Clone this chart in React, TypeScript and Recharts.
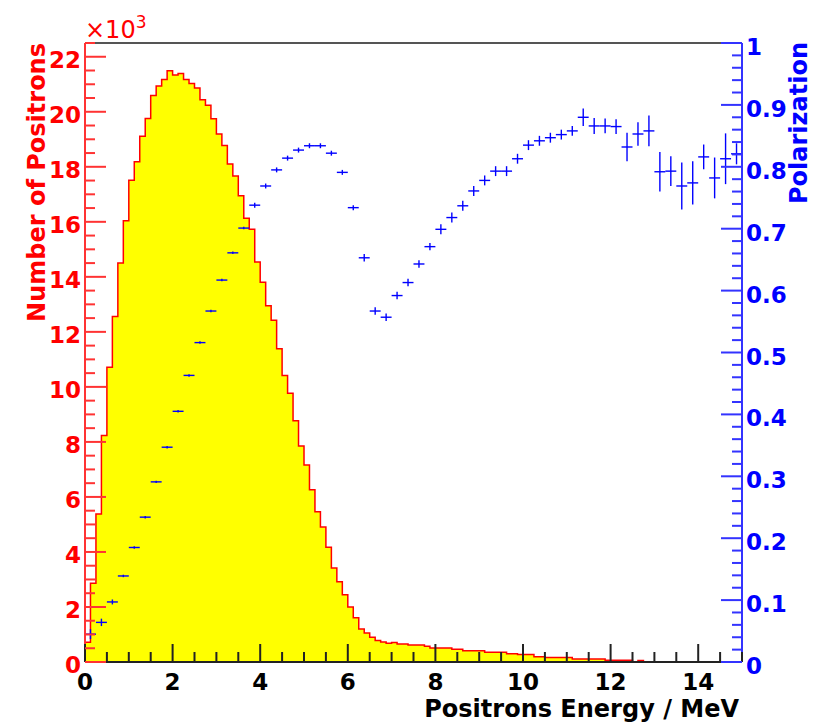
import React from 'react';
import { ComposedChart, Area, Scatter, XAxis, YAxis, ErrorBar, ReferenceLine, Label } from 'recharts';

// Histogram: positron counts per 0.125 MeV bin, starting at 0 MeV
const BIN_WIDTH = 0.125;
const positronCounts = [
  720, 2860, 5380, 8230, 10710, 12560, 14500, 16040, 17510, 18180,
  19110, 19760, 20590, 20940, 21170, 21490, 21340, 21390, 21170, 21030,
  20860, 20440, 20240, 19750, 19190, 18770, 18100, 17670, 16950, 16130,
  15730, 14540, 13800, 12950, 12420, 11390, 10410, 9770, 8770, 7850,
  7160, 6260, 5460, 4910, 4170, 3420, 2920, 2440, 2000, 1610,
  1200, 1050, 900, 780, 730, 680, 710, 650, 650, 620,
  620, 620, 570, 510, 510, 510, 510, 460, 460, 410,
  410, 410, 410, 350, 350, 350, 350, 300, 300, 270,
  270, 270, 190, 190, 160, 160, 160, 160, 160, 110,
  110, 110, 110, 110, 110, 60, 60, 60, 60, 60,
  0, 50,
];

// Polarization points: centres of 0.25 MeV bins starting at 0.125 MeV
const POL_BIN = 0.25;
const polarization = [
  0.045, 0.064, 0.097, 0.139, 0.185, 0.234, 0.291, 0.347, 0.405, 0.463,
  0.516, 0.567, 0.617, 0.661, 0.701, 0.738, 0.769, 0.795, 0.814, 0.827,
  0.834, 0.834, 0.822, 0.791, 0.734, 0.653, 0.567, 0.557, 0.592, 0.613,
  0.643, 0.671, 0.699, 0.718, 0.737, 0.761, 0.778, 0.793, 0.793, 0.813,
  0.835, 0.842, 0.847, 0.852, 0.858, 0.880, 0.866, 0.866, 0.865, 0.832,
  0.853, 0.858, 0.792, 0.793, 0.769, 0.774, 0.816, 0.782, 0.813, 0.821,
];
const polarizationErr = [
  0.008, 0.006, 0.004, 0.002, 0.002, 0.002, 0.002, 0.002, 0.002, 0.002,
  0.002, 0.002, 0.002, 0.002, 0.002, 0.004, 0.004, 0.004, 0.004, 0.004,
  0.004, 0.004, 0.004, 0.004, 0.004, 0.006, 0.006, 0.006, 0.006, 0.006,
  0.006, 0.006, 0.008, 0.008, 0.008, 0.008, 0.008, 0.008, 0.008, 0.008,
  0.008, 0.008, 0.008, 0.008, 0.008, 0.014, 0.013, 0.012, 0.012, 0.023,
  0.019, 0.025, 0.032, 0.024, 0.038, 0.035, 0.020, 0.033, 0.041, 0.017,
];

// Tick labels
const xMajorLabels = [0, 2, 4, 6, 8, 10, 12, 14];
const leftMajorLabels = [0, 2, 4, 6, 8, 10, 12, 14, 16, 18, 20, 22];
const rightMajorLabels = ['0', '0.1', '0.2', '0.3', '0.4', '0.5', '0.6', '0.7', '0.8', '0.9', '1'];

const X_MAX = 15;
const LEFT_MAX = 22500;
const LEFT_UNIT = 1000;

const histData = positronCounts.map((n, i) => ({ x: i * BIN_WIDTH, n }));
histData.push({ x: positronCounts.length * BIN_WIDTH, n: 0 });

const polData = polarization.map((p, i) => ({
  x: POL_BIN / 2 + i * POL_BIN,
  p,
  ex: POL_BIN / 2,
  ey: polarizationErr[i],
}));

// tick positions (major + minor)
const xAllTicks: number[] = [];
for (let i = 0; i <= 30; i++) xAllTicks.push(i * 0.5);
const leftAllTicks: number[] = [];
for (let i = 0; i <= 45; i++) leftAllTicks.push(i * 500);
const rightAllTicks: number[] = [];
for (let i = 0; i <= 50; i++) rightAllTicks.push(i / 50);

const FONT = '"DejaVu Sans", sans-serif';
const RED = '#ff0000';
const BLUE = '#0000ff';

const isXMajor = (v: number) => xMajorLabels.includes(v);
const isLeftMajor = (v: number) => leftMajorLabels.includes(v / LEFT_UNIT);
const isRightMajor = (v: number) => Math.abs(v * 10 - Math.round(v * 10)) < 1e-6;

const BottomTick = (props: any) => {
  const { x, y, payload } = props;
  const v = payload.value;
  const major = isXMajor(v);
  return (
    <g>
      <line x1={x} x2={x} y1={y} y2={y - (major ? 18 : 10)} stroke="#222222" strokeWidth={2} />
      {major && (
        <text x={x} y={y + 28} textAnchor="middle" fontFamily={FONT} fontWeight="bold" fontSize={23} fill="#000000">
          {v}
        </text>
      )}
    </g>
  );
};

const LeftTick = (props: any) => {
  const { x, y, payload } = props;
  const v = payload.value;
  const major = isLeftMajor(v);
  return (
    <g>
      <line x1={x} x2={x + (major ? 21 : 10)} y1={y} y2={y} stroke="#ff3333" strokeWidth={2} />
      {major && (
        <text x={x - 4} y={y + 11} textAnchor="end" fontFamily={FONT} fontWeight="bold" fontSize={23} fill={RED}>
          {v / LEFT_UNIT}
        </text>
      )}
    </g>
  );
};

const RightTick = (props: any) => {
  const { x, y, payload } = props;
  const v = payload.value;
  const major = isRightMajor(v);
  return (
    <g>
      <line x1={x} x2={x - (major ? 21 : 10)} y1={y} y2={y} stroke="#3333ff" strokeWidth={2} />
      {major && (
        <text x={x + 4} y={y + 12} textAnchor="start" fontFamily={FONT} fontWeight="bold" fontSize={23} fill={BLUE}>
          {rightMajorLabels[Math.round(v * 10)]}
        </text>
      )}
    </g>
  );
};

const LeftTitle = () => (
  <g>
    <text x={85} y={38} fontFamily={FONT} fontSize={24} fill={RED}>
      ×10<tspan dy={-10} fontSize={17}>3</tspan>
    </text>
    <text transform="translate(45,43) rotate(-90)" textAnchor="end" fontFamily={FONT} fontWeight="bold" fontSize={24} fill={RED}>
      Number of Positrons
    </text>
  </g>
);
const RightTitle = () => (
  <text transform="translate(807,42) rotate(-90)" textAnchor="end" fontFamily={FONT} fontWeight="bold" fontSize={24} fill={BLUE}>
    Polarization
  </text>
);
const BottomTitle = () => (
  <text x={739} y={717} textAnchor="end" fontFamily={FONT} fontWeight="bold" fontSize={24} fill="#000000">
    Positrons Energy / MeV
  </text>
);

const noShape = () => <g />;

export default function App() {
  return (
    <div style={{ position: 'absolute', left: 0, top: 0, width: 814, height: 725, background: '#fff' }}>
      <ComposedChart
        width={814}
        height={725}
        data={histData}
        margin={{ top: 43, right: 0, bottom: 0, left: 0 }}
      >
        <XAxis
          xAxisId="bottom"
          dataKey="x"
          type="number"
          domain={[0, X_MAX]}
          ticks={xAllTicks}
          interval={0}
          height={63}
          tickSize={0}
          tickMargin={0}
          tickLine={false}
          tick={<BottomTick />}
          axisLine={{ stroke: '#222222', strokeWidth: 2 }}
        >
          <Label content={BottomTitle} />
        </XAxis>
        <YAxis
          yAxisId="left"
          dataKey="n"
          type="number"
          domain={[0, LEFT_MAX]}
          ticks={leftAllTicks}
          interval={0}
          width={85}
          tickSize={0}
          tickMargin={0}
          tickLine={false}
          tick={<LeftTick />}
          axisLine={{ stroke: '#ff3333', strokeWidth: 2 }}
        >
          <Label content={LeftTitle} />
        </YAxis>
        <YAxis
          yAxisId="right"
          orientation="right"
          dataKey="p"
          type="number"
          domain={[0, 1]}
          ticks={rightAllTicks}
          interval={0}
          width={72}
          tickSize={0}
          tickMargin={0}
          tickLine={false}
          tick={<RightTick />}
          axisLine={{ stroke: '#3333ff', strokeWidth: 2 }}
        >
          <Label content={RightTitle} />
        </YAxis>

        <Area
          xAxisId="bottom"
          yAxisId="left"
          type="stepAfter"
          dataKey="n"
          stroke={RED}
          strokeWidth={1.5}
          fill="#ffff00"
          fillOpacity={1}
          isAnimationActive={false}
        />
        <ReferenceLine xAxisId="bottom" yAxisId="left" y={LEFT_MAX} stroke="#555555" strokeWidth={2} />
        <Scatter
          xAxisId="bottom"
          yAxisId="right"
          data={polData}
          dataKey="p"
          shape={noShape}
          isAnimationActive={false}
        >
          <ErrorBar dataKey="ex" direction="x" width={0} stroke={BLUE} strokeWidth={1.4} isAnimationActive={false} />
          <ErrorBar dataKey="ey" direction="y" width={0} stroke={BLUE} strokeWidth={1.4} isAnimationActive={false} />
        </Scatter>
      </ComposedChart>
    </div>
  );
}
